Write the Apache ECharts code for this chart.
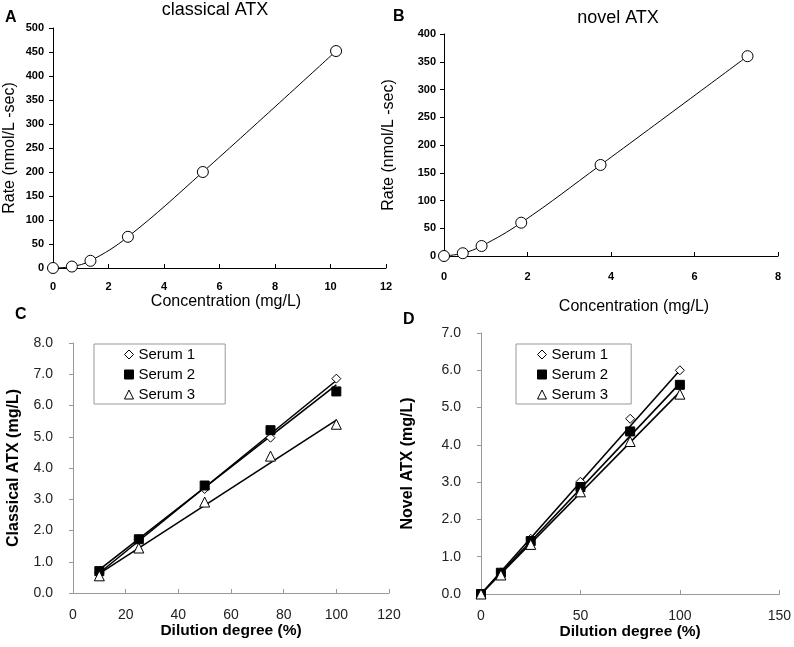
<!DOCTYPE html>
<html>
<head>
<meta charset="utf-8">
<script src="https://cdn.jsdelivr.net/npm/echarts@6/dist/echarts.min.js"></script>
<style>
	html, body { margin: 0; padding: 0; background: #fff; }
	#chart { width: 794px; height: 647px; }
</style>
</head>
<body>
<div id="chart"></div>
<script>
// panel A: classical ATX standard curve
const concA = [ 0, 0.68, 1.35, 2.7, 5.4, 10.2 ];
const rateA = [ 0, 3, 15, 65, 200, 452 ];

// panel B: novel ATX standard curve
const concB = [ 0, 0.45, 0.9, 1.85, 3.75, 7.27 ];
const rateB = [ 0, 5, 18, 60, 164, 360 ];

// panel C: dilution, classical ATX
const dilutionC = [ 10, 25, 50, 75, 100 ];
const serum1C = [ 0.65, 1.72, 3.33, 4.97, 6.86 ];
const serum2C = [ 0.70, 1.72, 3.44, 5.21, 6.45 ];
const serum3C = [ 0.55, 1.44, 2.91, 4.38, 5.40 ];
// trend line ends
const fitXC = [ 10, 100 ];
const fit1C = [ 0.64, 6.80 ];
const fit2C = [ 0.75, 6.66 ];
const fit3C = [ 0.62, 5.53 ];

// panel D: dilution, novel ATX
const dilutionD = [ 0, 10, 25, 50, 75, 100 ];
const serum1D = [ 0, 0.58, 1.48, 3.01, 4.70, 6.00 ];
const serum2D = [ 0, 0.57, 1.42, 2.87, 4.36, 5.61 ];
const serum3D = [ 0, 0.51, 1.33, 2.74, 4.09, 5.36 ];
const fitXD = [ 0, 100 ];
const fit1D = [ 0, 6.00 ];
const fit2D = [ 0, 5.65 ];
const fit3D = [ 0, 5.42 ];

const serumNames = [ "Serum 1", "Serum 2", "Serum 3" ];

const FONT = "Liberation Sans, Arial, sans-serif";

const pairs = ( xs, ys ) => xs.map( ( x, i ) => [ x, ys[i] ] );

/* axes for the top two panels */
function topX( gridIndex, max, interval, labelMargin, nameGap, namePad ) {
	return {
		gridIndex, type: "value", min: 0, max, interval,
		name: "Concentration (mg/L)", nameLocation: "middle", nameGap,
		nameTextStyle: { fontFamily: FONT, fontSize: 16, color: "#000", padding: [ 0, 0, 0, namePad ] },
		axisLine: { lineStyle: { color: "#000", width: 1 } },
		axisTick: { inside: true, length: 4, lineStyle: { color: "#000" } },
		axisLabel: { fontFamily: FONT, fontSize: 11, fontWeight: "bold", color: "#000", margin: labelMargin },
		splitLine: { show: false }
	};
}
function topY( gridIndex, max, labelMargin, nameGap ) {
	return {
		gridIndex, type: "value", min: 0, max, interval: 50,
		name: "Rate (nmol/L -sec)", nameLocation: "middle", nameGap,
		nameTextStyle: { fontFamily: FONT, fontSize: 16, color: "#000" },
		axisLine: { show: true, lineStyle: { color: "#000", width: 1 } },
		axisTick: { show: true, length: 4, lineStyle: { color: "#000" } },
		axisLabel: { fontFamily: FONT, fontSize: 11, fontWeight: "bold", color: "#000", margin: labelMargin },
		splitLine: { show: false }
	};
}

/* axes for the bottom two panels */
function bottomX( gridIndex, max, interval, nameGap ) {
	return {
		gridIndex, type: "value", min: 0, max, interval,
		name: "Dilution degree (%)", nameLocation: "middle", nameGap,
		nameTextStyle: { fontFamily: FONT, fontSize: 15.5, fontWeight: "bold", color: "#000" },
		axisLine: { lineStyle: { color: "#999", width: 1 } },
		axisTick: { inside: true, length: 4, lineStyle: { color: "#999" } },
		axisLabel: { fontFamily: FONT, fontSize: 14, color: "#222", margin: 15 },
		splitLine: { show: false }
	};
}
function bottomY( gridIndex, max, name, nameGap ) {
	return {
		gridIndex, type: "value", min: 0, max, interval: 1,
		name, nameLocation: "middle", nameGap,
		nameTextStyle: { fontFamily: FONT, fontSize: 16, fontWeight: "bold", color: "#000" },
		axisLine: { show: true, lineStyle: { color: "#999", width: 1 } },
		axisTick: { show: true, length: 4, lineStyle: { color: "#999" } },
		axisLabel: { fontFamily: FONT, fontSize: 14, color: "#222", margin: 20, formatter: v => v.toFixed( 1 ) },
		splitLine: { show: false }
	};
}

const markerStyles = [
	{ symbol: "diamond", symbolSize: 9, itemStyle: { color: "#fff", borderColor: "#000", borderWidth: 1, opacity: 1 } },
	{ symbol: "rect", symbolSize: 9, itemStyle: { color: "#000", borderColor: "#000", borderWidth: 1, opacity: 1 } },
	{ symbol: "triangle", symbolSize: 10, itemStyle: { color: "#fff", borderColor: "#000", borderWidth: 1, opacity: 1 } }
];

function fitLine( axisIndex, xs, ys ) {
	return {
		type: "line", name: "fit", xAxisIndex: axisIndex, yAxisIndex: axisIndex,
		data: pairs( xs, ys ), symbol: "none", silent: true, z: 2,
		lineStyle: { color: "#000", width: 1.6 }
	};
}
function serumPoints( axisIndex, k, xs, ys ) {
	return {
		type: "scatter", name: serumNames[k], xAxisIndex: axisIndex, yAxisIndex: axisIndex,
		data: pairs( xs, ys ), z: 5, ...markerStyles[k]
	};
}
function serumLegend( left, padding ) {
	return {
		left, top: 344, orient: "vertical", padding, itemGap: 5,
		itemWidth: 9, itemHeight: 9,
		borderColor: "#999", borderWidth: 1, backgroundColor: "#fff",
		itemStyle: { borderWidth: 1 },
		textStyle: { fontFamily: FONT, fontSize: 15, color: "#000" },
		data: [
			{ name: "Serum 1", icon: "diamond" },
			{ name: "Serum 2", icon: "rect" },
			{ name: "Serum 3", icon: "triangle" }
		]
	};
}

const panelLetter = ( text, left, top ) => ( {
	text, left, top, padding: 0,
	textStyle: { fontFamily: FONT, fontSize: 16, fontWeight: "bold", color: "#000" }
} );

const option = {
	animation: false,
	backgroundColor: "#fff",
	title: [
		{ text: "classical ATX", left: 215, top: 1, textAlign: "center", padding: 0,
			textStyle: { fontFamily: FONT, fontSize: 18, fontWeight: "normal", color: "#000" } },
		{ text: "novel ATX", left: 618, top: 9, textAlign: "center", padding: 0,
			textStyle: { fontFamily: FONT, fontSize: 18, fontWeight: "normal", color: "#000" } },
		panelLetter( "A", 5, 10 ),
		panelLetter( "B", 393, 9 ),
		panelLetter( "C", 15, 307 ),
		panelLetter( "D", 403, 312 )
	],
	legend: [ serumLegend( 94, [ 3, 30, 2, 30 ] ), serumLegend( 516, [ 3, 23, 2, 21 ] ) ],
	grid: [
		{ left: 53, top: 28, width: 333, height: 240 },
		{ left: 444, top: 34, width: 334, height: 222 },
		{ left: 73, top: 343, width: 316, height: 250 },
		{ left: 481, top: 333, width: 302, height: 261 }
	],
	xAxis: [
		topX( 0, 12, 2, 13, 26, 13 ),
		topX( 1, 8, 2, 15, 43, 46 ),
		bottomX( 2, 120, 20, 27 ),
		bottomX( 3, 150, 50, 25 )
	],
	yAxis: [
		topY( 0, 500, 9, 35 ),
		topY( 1, 400, 8, 47 ),
		bottomY( 2, 8, "Classical ATX (mg/L)", 51 ),
		bottomY( 3, 7, "Novel ATX (mg/L)", 65 )
	],
	series: [
		{
			type: "line", name: "classical", xAxisIndex: 0, yAxisIndex: 0,
			data: pairs( concA, rateA ), smooth: 0.4,
			symbol: "circle", symbolSize: 11,
			lineStyle: { color: "#000", width: 1 },
			itemStyle: { color: "#fff", borderColor: "#000", borderWidth: 1 }
		},
		{
			type: "line", name: "novel", xAxisIndex: 1, yAxisIndex: 1,
			data: pairs( concB, rateB ), smooth: 0.4,
			symbol: "circle", symbolSize: 11,
			lineStyle: { color: "#000", width: 1 },
			itemStyle: { color: "#fff", borderColor: "#000", borderWidth: 1 }
		},
		fitLine( 2, fitXC, fit1C ),
		fitLine( 2, fitXC, fit2C ),
		fitLine( 2, fitXC, fit3C ),
		serumPoints( 2, 0, dilutionC, serum1C ),
		serumPoints( 2, 1, dilutionC, serum2C ),
		serumPoints( 2, 2, dilutionC, serum3C ),
		fitLine( 3, fitXD, fit1D ),
		fitLine( 3, fitXD, fit2D ),
		fitLine( 3, fitXD, fit3D ),
		serumPoints( 3, 0, dilutionD, serum1D ),
		serumPoints( 3, 1, dilutionD, serum2D ),
		serumPoints( 3, 2, dilutionD, serum3D )
	]
};

const chart = echarts.init( document.getElementById( "chart" ), null, { renderer: "canvas" } );
chart.setOption( option );
</script>
</body>
</html>
